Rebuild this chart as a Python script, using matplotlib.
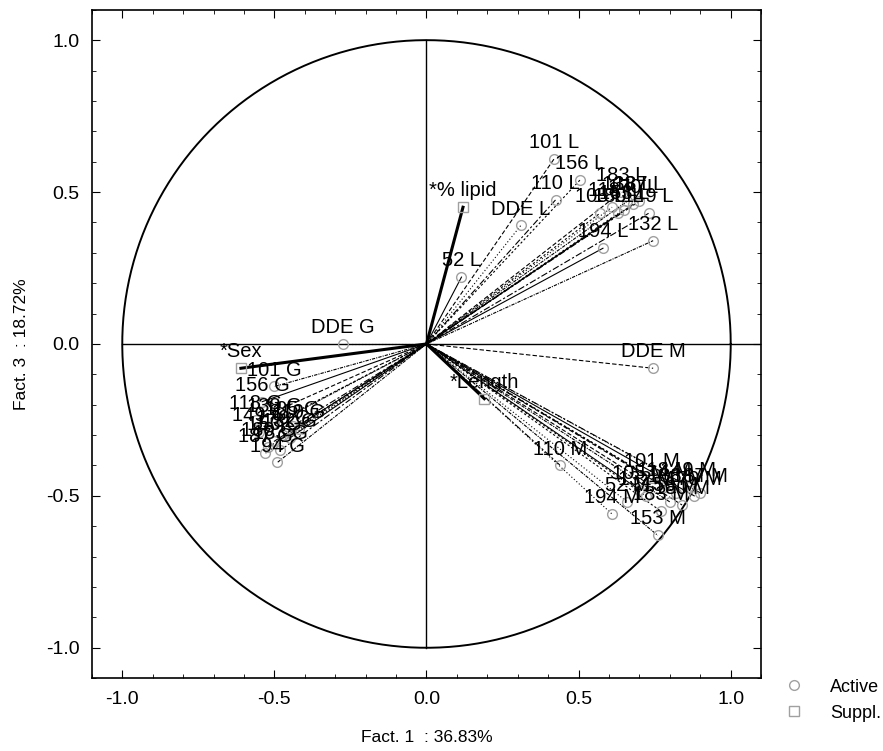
import numpy as np
import matplotlib.pyplot as plt
from matplotlib.lines import Line2D
from matplotlib.ticker import MultipleLocator, FormatStrFormatter

plt.rcParams['font.family'] = ['Liberation Sans', 'DejaVu Sans']

# active variables: name, Fact. 1, Fact. 3
act_names = ['52 L', '101 L', '156 L', '110 L', 'DDE L', '132 L', '194 L', '183 L',
             '105 L', '149 L', '118 L', '138 L', '153 L', '170 L', '180 L', '187 L',
             'DDE G', '101 G', '156 G', '118 G', '138 G', '105 G', '110 G', '149 G',
             '153 G', '170 G', '180 G', '183 G', '187 G', '194 G', '132 G',
             'DDE M', '101 M', '110 M', '194 M', '153 M', '105 M', '118 M', '132 M',
             '138 M', '149 M', '156 M', '170 M', '180 M', '183 M', '187 M', '52 M']
act_f1 = [0.115, 0.42, 0.505, 0.425, 0.31, 0.745, 0.58, 0.64,
          0.57, 0.73, 0.61, 0.66, 0.65, 0.68, 0.63, 0.70,
          -0.275, -0.50, -0.54, -0.56, -0.50, -0.44, -0.42, -0.55,
          -0.50, -0.47, -0.52, -0.48, -0.53, -0.49, -0.45,
          0.745, 0.74, 0.44, 0.61, 0.76, 0.70, 0.78, 0.72,
          0.82, 0.86, 0.80, 0.88, 0.84, 0.77, 0.90, 0.66]
act_f3 = [0.22, 0.61, 0.54, 0.475, 0.39, 0.34, 0.315, 0.50,
          0.43, 0.43, 0.45, 0.47, 0.44, 0.46, 0.43, 0.47,
          0.0, -0.14, -0.19, -0.25, -0.26, -0.27, -0.28, -0.29,
          -0.32, -0.30, -0.34, -0.35, -0.36, -0.39, -0.31,
          -0.08, -0.44, -0.40, -0.56, -0.63, -0.48, -0.47, -0.50,
          -0.49, -0.47, -0.52, -0.50, -0.53, -0.55, -0.49, -0.52]

# supplementary variables
sup_names = ['*% lipid', '*Sex', '*Length']
sup_f1 = [0.12, -0.61, 0.19]
sup_f3 = [0.45, -0.08, -0.18]

styles = ['-', (0, (4, 2)), (0, (2, 2)), (0, (6, 2, 2, 2)), (0, (1, 2)), (0, (3, 1, 1, 1))]

fig = plt.figure(figsize=(8.83, 7.51), dpi=100)
ax = fig.add_axes([0.104, 0.097, 0.758, 0.89])

t = np.linspace(0, 2 * np.pi, 400)
ax.plot(np.cos(t), np.sin(t), color='black', lw=1.4, zorder=2)
ax.plot([-1.0, 1.1], [0, 0], color='black', lw=1.0, zorder=2)
ax.plot([0, 0], [-1.0, 1.0], color='black', lw=1.0, zorder=2)

for i, (name, x, y) in enumerate(zip(act_names, act_f1, act_f3)):
    ax.plot([0, x], [0, y], color='black', lw=0.8, ls=styles[i % len(styles)], zorder=3)
    ax.plot(x, y, marker='o', ms=7, mfc='none', mec='#a0a0a0', mew=1.0, zorder=4)
    ax.annotate(name, (x, y), xytext=(0, 5), textcoords='offset points',
                ha='center', va='bottom', fontsize=14.5, zorder=5)

for name, x, y in zip(sup_names, sup_f1, sup_f3):
    ax.plot([0, x], [0, y], color='black', lw=2.2, zorder=3)
    ax.plot(x, y, marker='s', ms=7, mfc='none', mec='#a0a0a0', mew=1.0, zorder=4)
    ax.annotate(name, (x, y), xytext=(0, 5), textcoords='offset points',
                ha='center', va='bottom', fontsize=14.5, zorder=5)

ax.set_xlim(-1.1, 1.1)
ax.set_ylim(-1.1, 1.1)
ax.xaxis.set_major_locator(MultipleLocator(0.5))
ax.yaxis.set_major_locator(MultipleLocator(0.5))
ax.xaxis.set_minor_locator(MultipleLocator(0.1))
ax.yaxis.set_minor_locator(MultipleLocator(0.1))
ax.xaxis.set_major_formatter(FormatStrFormatter('%.1f'))
ax.yaxis.set_major_formatter(FormatStrFormatter('%.1f'))
ax.tick_params(which='both', direction='in', top=True, right=True, labelsize=14)
ax.tick_params(which='major', length=6, pad=9)
ax.tick_params(which='minor', length=3)
for s in ax.spines.values():
    s.set_linewidth(1.2)
ax.set_xlabel('Fact. 1  : 36.83%', fontsize=12.5, labelpad=16)
ax.set_ylabel('Fact. 3  : 18.72%', fontsize=12.5, labelpad=12)

handles = [Line2D([], [], ls='none', marker='o', ms=7, mfc='none', mec='#a0a0a0'),
           Line2D([], [], ls='none', marker='s', ms=7, mfc='none', mec='#a0a0a0')]
fig.legend(handles, ['Active', 'Suppl.'], loc='upper left', bbox_to_anchor=(0.86, 0.118),
           frameon=False, fontsize=13, handletextpad=1.0, labelspacing=0.5)

fig.savefig('out.png')
